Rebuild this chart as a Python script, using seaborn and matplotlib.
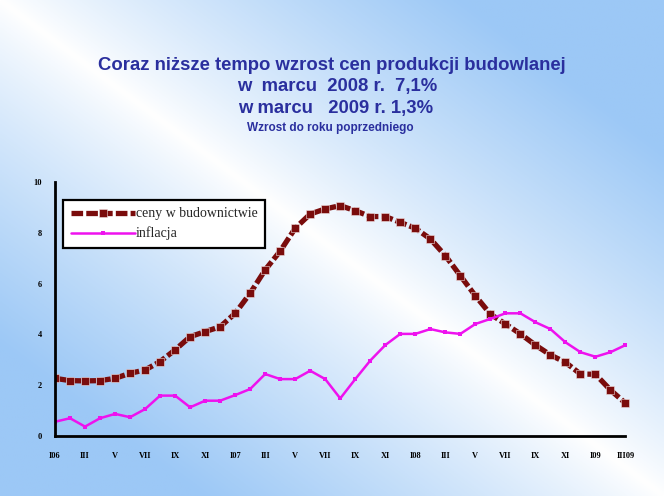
import numpy as np
import pandas as pd
import seaborn as sns
from matplotlib import pyplot as plt
from matplotlib.colors import LinearSegmentedColormap

# miesiace od I 2006 do III 2009
months = list(range(39))
tick_labels = ['I06', 'III', 'V', 'VII', 'IX', 'XI',
               'I07', 'III', 'V', 'VII', 'IX', 'XI',
               'I08', 'III', 'V', 'VII', 'IX', 'XI',
               'I09', 'III09']

ceny = [2.27, 2.18, 2.17, 2.18, 2.27, 2.47, 2.60, 2.93, 3.39, 3.91,
        4.11, 4.30, 4.83, 5.62, 6.54, 7.28, 8.18, 8.74, 8.94, 9.07,
        8.87, 8.64, 8.64, 8.41, 8.18, 7.76, 7.10, 6.31, 5.52, 4.80,
        4.41, 4.02, 3.58, 3.19, 2.90, 2.44, 2.43, 1.81, 1.29]

inflacja = [0.56, 0.70, 0.37, 0.70, 0.87, 0.74, 1.06, 1.59, 1.59, 1.13,
            1.39, 1.39, 1.61, 1.85, 2.44, 2.24, 2.24, 2.57, 2.24, 1.48,
            2.24, 2.97, 3.58, 4.02, 4.02, 4.21, 4.08, 4.02, 4.41, 4.61,
            4.83, 4.83, 4.48, 4.21, 3.69, 3.30, 3.12, 3.30, 3.58]

df = pd.DataFrame({'miesiac': months, 'ceny': ceny, 'inflacja': inflacja})

sns.set_theme(style="white")

fig = plt.figure(figsize=(6.64, 4.96), dpi=100)

# tlo - gradient niebieski / bialy po przekatnej
bg = fig.add_axes([0, 0, 1, 1], zorder=-10)
xx, yy = np.meshgrid(np.linspace(0, 1, 300), np.linspace(0, 1, 300))
d = np.clip(np.abs(xx - yy) / 0.7, 0, 1) ** 0.85
cmap = LinearSegmentedColormap.from_list('bg', ['#ffffff', '#9cc8f6'])
bg.imshow(d, cmap=cmap, aspect='auto', extent=(0, 1, 0, 1), origin='upper')
bg.axis('off')

ax = fig.add_axes([55 / 664, 60 / 496, 575 / 664, 254 / 496])
ax.patch.set_alpha(0)

sns.lineplot(data=df, x='miesiac', y='ceny', ax=ax, color='#7a0c0c',
             linewidth=3.8, linestyle=(0, (2.2, 0.6)), marker='s', markersize=6,
             markeredgecolor='#f0e0e0', markeredgewidth=0.4, label='ceny w budownictwie')
sns.lineplot(data=df, x='miesiac', y='inflacja', ax=ax, color='#ee12ee',
             linewidth=1.8, marker='s', markersize=3, markeredgewidth=0,
             label='inflacja')

ax.set_xlim(0, 38.3)
ax.set_ylim(0, 10)
ax.set_xlabel('')
ax.set_ylabel('')
ax.set_xticks(months)
ax.set_xticklabels([tick_labels[i // 2] if i % 2 == 0 else '' for i in months])
ax.set_yticks([0, 2, 4, 6, 8, 10])
ax.set_yticklabels(['0', '2', '4', '6', '8', '10'])

for s in ['top', 'right']:
    ax.spines[s].set_visible(False)
for s in ['left', 'bottom']:
    ax.spines[s].set_color('black')
    ax.spines[s].set_linewidth(2)
ax.spines['bottom'].set_bounds(0, 38)

ax.tick_params(axis='both', direction='inout', length=7, width=1.6, color='black',
               labelsize=6, labelcolor='black')
ax.tick_params(axis='x', pad=8)
ax.tick_params(axis='y', pad=6)
for lab in ax.get_xticklabels() + ax.get_yticklabels():
    lab.set_family('Liberation Serif')
    lab.set_fontweight('bold')

leg = ax.legend(loc='upper left', bbox_to_anchor=(0.014, 0.93), borderaxespad=0,
                frameon=True, fancybox=False, framealpha=1, handlelength=4.6,
                handletextpad=0.1, borderpad=0.55, labelspacing=0.45,
                prop={'family': 'Liberation Serif', 'size': 10})
leg.get_frame().set_edgecolor('black')
leg.get_frame().set_linewidth(1.6)
leg.get_frame().set_facecolor('white')

title_col = '#2a2f9e'
fig.text(0.5, 1 - 65 / 496, 'Coraz niższe tempo wzrost cen produkcji budowlanej',
         ha='center', va='center', fontsize=13.3, fontweight='bold', color=title_col,
         family='Liberation Sans')
fig.text(0.508, 1 - 87 / 496, 'w  marcu  2008 r.  7,1%', ha='center', va='center',
         fontsize=13.3, fontweight='bold', color=title_col, family='Liberation Sans')
fig.text(0.505, 1 - 108 / 496, 'w marcu   2009 r. 1,3%', ha='center', va='center',
         fontsize=13.3, fontweight='bold', color=title_col, family='Liberation Sans')
fig.text(0.497, 1 - 128 / 496, 'Wzrost do roku poprzedniego', ha='center', va='center',
         fontsize=8.5, fontweight='bold', color=title_col, family='Liberation Sans')

fig.savefig('out.png', dpi=100)
plt.close('all')
